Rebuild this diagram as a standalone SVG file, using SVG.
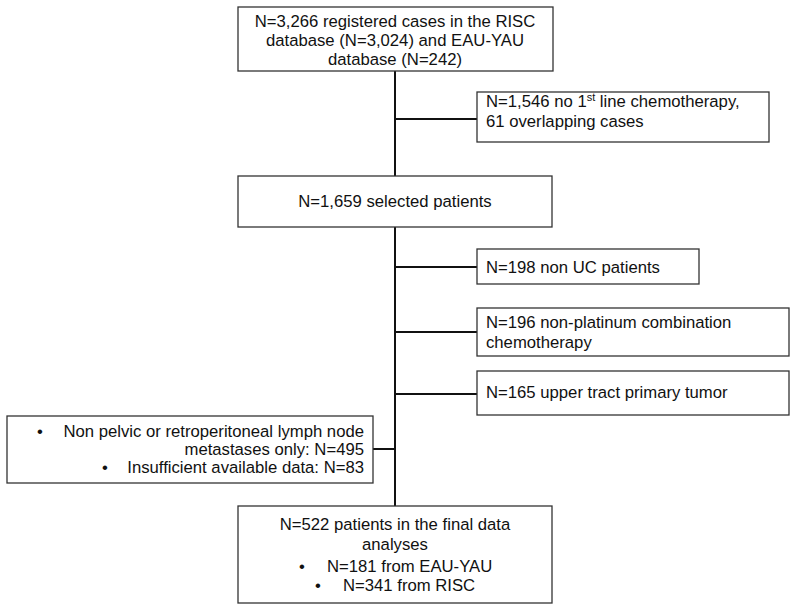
<svg xmlns="http://www.w3.org/2000/svg" width="800" height="613" viewBox="0 0 800 613">
<style>
rect.b{fill:#fff;stroke:#333;stroke-width:1.3}
text{font-family:"Liberation Sans",Arial,sans-serif;font-size:16.7px;fill:#111}
.c{text-anchor:middle}
.r{text-anchor:end}
#connectors line{stroke:#111;stroke-width:2}
</style>
<rect width="800" height="613" fill="#fff"/>
<g id="connectors">
<line x1="395" y1="71" x2="395" y2="506"/>
<line x1="395" y1="119" x2="477" y2="119"/>
<line x1="395" y1="267" x2="477" y2="267"/>
<line x1="395" y1="332" x2="477" y2="332"/>
<line x1="395" y1="394" x2="477" y2="394"/>
<line x1="373" y1="449" x2="395" y2="449"/>
</g>
<g id="n1">
<rect class="b" x="238" y="7" width="315" height="64"/>
<text class="c" x="395" y="27">N=3,266 registered cases in the RISC</text>
<text class="c" x="395" y="46">database (N=3,024) and EAU-YAU</text>
<text class="c" x="395" y="65">database (N=242)</text>
</g>
<g id="n2">
<rect class="b" x="477" y="92" width="292" height="50"/>
<text x="486" y="107">N=1,546 no 1<tspan font-size="11" dy="-6">st</tspan><tspan dy="6"> line chemotherapy,</tspan></text>
<text x="486" y="127">61 overlapping cases</text>
</g>
<g id="n3">
<rect class="b" x="238" y="176" width="314" height="51"/>
<text class="c" x="395" y="207">N=1,659 selected patients</text>
</g>
<g id="n4">
<rect class="b" x="477" y="249" width="222" height="35"/>
<text x="486" y="273">N=198 non UC patients</text>
</g>
<g id="n5">
<rect class="b" x="477" y="308" width="312" height="48"/>
<text x="486" y="328">N=196 non-platinum combination</text>
<text x="486" y="348">chemotherapy</text>
</g>
<g id="n6">
<rect class="b" x="477" y="371" width="312" height="44"/>
<text x="486" y="398">N=165 upper tract primary tumor</text>
</g>
<g id="n7">
<rect class="b" x="7" y="416" width="366" height="67"/>
<text x="37" y="437">•</text>
<text class="r" x="364" y="437">Non pelvic or retroperitoneal lymph node</text>
<text class="r" x="364" y="455">metastases only: N=495</text>
<text x="102" y="473">•</text>
<text class="r" x="364" y="473">Insufficient available data: N=83</text>
</g>
<g id="n8">
<rect class="b" x="238" y="506" width="314" height="97"/>
<text class="c" x="395" y="530">N=522 patients in the final data</text>
<text class="c" x="395" y="550">analyses</text>
<text x="299" y="572">•</text>
<text x="327" y="572">N=181 from EAU-YAU</text>
<text x="315" y="591">•</text>
<text x="343" y="591">N=341 from RISC</text>
</g>
</svg>
